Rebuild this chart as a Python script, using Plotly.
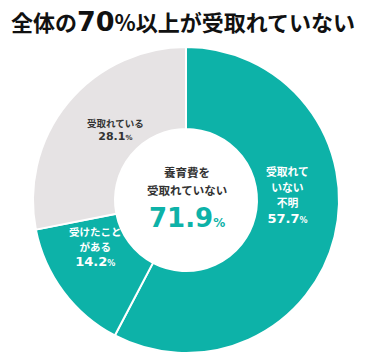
import plotly.graph_objects as go

# ---- data ----
categories = ["受取れていない不明", "受けたことがある", "受取れている"]
values = [57.7, 14.2, 28.1]
not_received_total = 71.9
title_text = "全体の70%以上が受取れていない"

TEAL = "#0db2a8"
GRAY = "#e6e3e4"
DARK = "#333333"
W, H = 366, 364
CJK = "Noto Sans CJK JP"
LAT = "DejaVu Sans"


def px(x, y):
    return x / W, 1 - y / H


fig = go.Figure(go.Pie(
    labels=categories,
    values=values,
    sort=False,
    direction="clockwise",
    rotation=0,
    hole=0.464,
    marker=dict(colors=[TEAL, TEAL, GRAY], line=dict(color="white", width=2)),
    textinfo="none",
    hoverinfo="skip",
    showlegend=False,
    domain=dict(x=[33 / W, 339 / W], y=[1 - 353 / H, 1 - 47 / H]),
))

ann = []


def add(x, y, text, size, color, family=CJK):
    ax, ay = px(x, y)
    ann.append(dict(x=ax, y=ay, xref="paper", yref="paper", text=text,
                    showarrow=False, xanchor="center", yanchor="middle",
                    font=dict(size=size, color=color, family=family)))


def pct(v, size, psize):
    return (f"<span style='font-family:{LAT};font-size:{size}px'><b>{v}</b></span>"
            f"<span style='font-family:{LAT};font-size:{psize}px'><b>%</b></span>")


def small(lines, size):
    return "<br>".join(f"<span style='font-size:{size}px'><b>{s}</b></span>" for s in lines)


# title
add(183, 21, "<b>全体の<span style='font-family:DejaVu Sans;font-size:27px'>70</span>%以上が受取れていない</b>", 22, "#111111")

# center
add(187, 181, small(["養育費を", "受取れていない"], 11.5), 13.5, DARK)
add(187, 218, pct(f"{not_received_total}", 26, 12), 26, TEAL, LAT)

# slice labels
add(287, 194, small(["受取れて", "いない", "不明"], 10.8) + "<br>" + pct(f"{values[0]}", 13, 8), 12, "white")
add(95, 246, small(["受けたこと", "がある"], 10.5) + "<br>" + pct(f"{values[1]}", 13, 8), 11.5, "white")
add(115, 129, small(["受取れている"], 9.5) + "<br>" + pct(f"{values[2]}", 11, 7), 10, DARK)

fig.update_layout(
    width=W, height=H,
    margin=dict(l=0, r=0, t=0, b=0),
    paper_bgcolor="white",
    plot_bgcolor="white",
    annotations=ann,
)

fig.write_html("out.html", config={"displayModeBar": False},
               post_script="document.body.style.margin='0';")
